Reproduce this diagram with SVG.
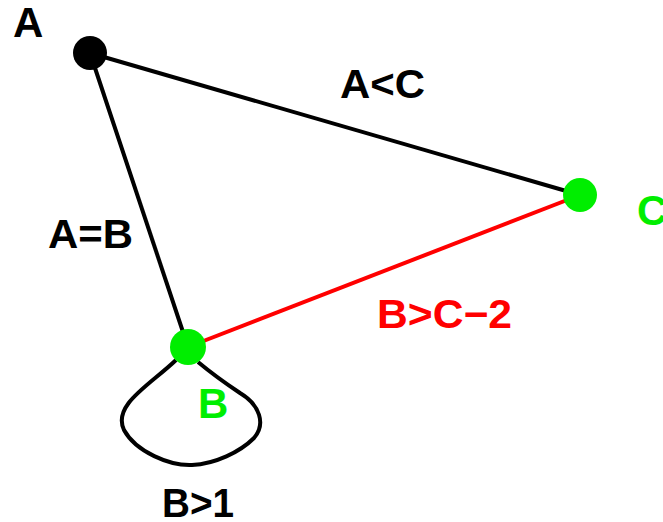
<svg xmlns="http://www.w3.org/2000/svg" width="663" height="522" viewBox="0 0 663 522">
<style>
text{font-family:"Liberation Sans",Arial,sans-serif;font-weight:bold;font-size:40px}
.n{font-size:42px}
.k{fill:#000}.g{fill:#00ee00}.r{fill:#ff0000}
.e{fill:none;stroke:#000;stroke-width:4}
</style>
<rect width="663" height="522" fill="#fff"/>
<g id="connectors">
<line class="e" x1="90" y1="53" x2="580" y2="195"/>
<line class="e" x1="90" y1="53" x2="188" y2="347"/>
<line x1="188" y1="347" x2="580" y2="195" stroke="#ff0000" stroke-width="4"/>
<path class="e" d="M176 360 C150 385,112 405,124 430 C136 452,170 466,192 465 C215 464,240 452,254 438 C266 424,260 405,240 393 C225 383,210 372,198 362"/>
<text class="k" x="340" y="98" textLength="85" lengthAdjust="spacingAndGlyphs">A&lt;C</text>
<text class="k" x="48" y="248" textLength="85" lengthAdjust="spacingAndGlyphs">A=B</text>
<text class="r" x="377" y="328" textLength="135" lengthAdjust="spacingAndGlyphs">B&gt;C−2</text>
<text class="k" x="162" y="517" textLength="72" lengthAdjust="spacingAndGlyphs">B&gt;1</text>
</g>
<g id="A"><circle cx="90" cy="53" r="17" fill="#000"/><text class="k n" x="13" y="37">A</text></g>
<g id="B"><circle cx="188" cy="347" r="18" fill="#00ee00"/><text class="g n" x="198" y="418">B</text></g>
<g id="C"><circle cx="580" cy="195" r="17" fill="#00ee00"/><text class="g n" x="637" y="225">C</text></g>
</svg>
